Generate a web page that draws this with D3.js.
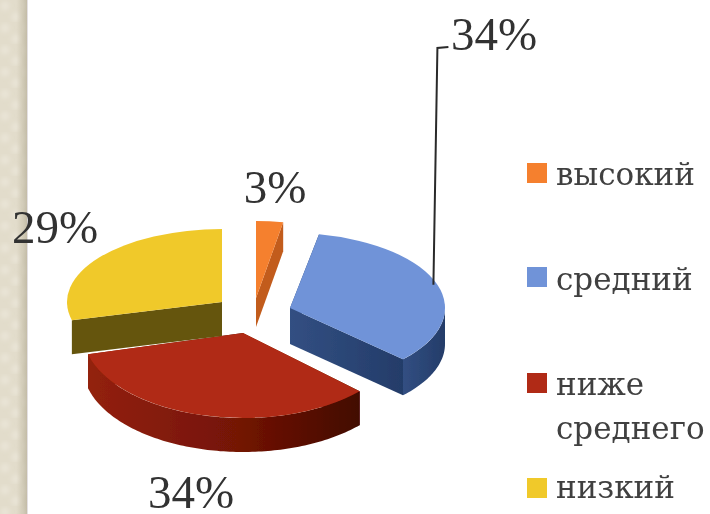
<!DOCTYPE html>
<html>
<head>
    <meta charset="utf-8">
    <title>pie</title>
    <script src="https://cdn.jsdelivr.net/npm/d3@7/dist/d3.min.js"></script>
    <style>
        * { padding: 0; margin: 0; box-sizing: border-box; }
        body { background: #fff; overflow: hidden; width: 710px; height: 514px; }
    </style>
</head>
<body>
<script>
    // data
    const categories = ['высокий', 'средний', 'ниже среднего', 'низкий']
    const values = [3, 34, 34, 29]
    const percentLabels = ['3%', '34%', '34%', '29%']

    // colours per slice
    const topColors = ['#f5802e', '#6f93d8', '#b02c13', '#f0c92b']
    const wallColors = ['#c25c1c', '#2f4a7b', '#7d1808', '#655510']

    // each exploded slice has its own centre and radii, the picture has perspective
    const centerX = [256, 290, 243, 222]
    const centerY = [298, 308, 333, 302]
    const radiusX = [145, 155, 160, 155]
    const radiusY = [77, 75, 85, 73]
    const depth = [29, 36, 34, 34]

    // label anchors and legend rows
    const labelX = [275, 494, 191, 55]
    const labelY = [203, 50, 508, 243]
    const legendY = [163, 267, 373, 478]
    const legendLines = [['высокий'], ['средний'], ['ниже', 'среднего'], ['низкий']]
    const legendBase = [185, 290, 395, 498]
    const legendLineGap = 44

    const width = 710, height = 514
    const svg = d3.select('body').append('svg')
        .attr('width', width).attr('height', height)
    const defs = svg.append('defs')

    const soft = defs.append('filter').attr('id', 'soft')
    soft.append('feGaussianBlur').attr('stdDeviation', 0.6)
    const softer = defs.append('filter').attr('id', 'softer')
    softer.append('feGaussianBlur').attr('stdDeviation', 2)

    // beige strip on the left
    const pat = defs.append('pattern').attr('id', 'tex')
        .attr('width', 22).attr('height', 22).attr('patternUnits', 'userSpaceOnUse')
    pat.append('rect').attr('width', 22).attr('height', 22).attr('fill', '#e2dccb')
    const blobs = pat.append('g').attr('filter', 'url(#softer)')
    blobs.append('circle').attr('cx', 5).attr('cy', 6).attr('r', 4.5).attr('fill', '#e9e4d6')
    blobs.append('circle').attr('cx', 16).attr('cy', 17).attr('r', 4.5).attr('fill', '#e9e4d6')
    const edge = defs.append('linearGradient').attr('id', 'edge')
    edge.append('stop').attr('offset', '0.6').attr('stop-color', '#c9c2ac').attr('stop-opacity', 0)
    edge.append('stop').attr('offset', '1').attr('stop-color', '#bdb6a0').attr('stop-opacity', 0.85)
    svg.append('rect').attr('width', 27).attr('height', height).attr('fill', 'url(#tex)')
    svg.append('rect').attr('width', 27).attr('height', height).attr('fill', 'url(#edge)')
    svg.append('rect').attr('x', 27).attr('width', 1).attr('height', height).attr('fill', '#e4e0e2')

    // wall shading
    const redWall = defs.append('linearGradient').attr('id', 'wall2')
    redWall.append('stop').attr('offset', '0').attr('stop-color', '#93210d')
    redWall.append('stop').attr('offset', '0.55').attr('stop-color', '#741406')
    redWall.append('stop').attr('offset', '1').attr('stop-color', '#420700')
    const blueWall = defs.append('linearGradient').attr('id', 'wall1')
    blueWall.append('stop').attr('offset', '0').attr('stop-color', '#324f82')
    blueWall.append('stop').attr('offset', '1').attr('stop-color', '#243c69')
    const wallFill = i => i === 2 ? 'url(#wall2)' : i === 1 ? 'url(#wall1)' : wallColors[i]

    const pie = d3.pie().sort(null).value(d => d)
    const slices = pie(values)

    const chart = svg.append('g').attr('filter', 'url(#soft)')
    const project = (i, a, r = 1) => [
        centerX[i] + radiusX[i] * r * Math.sin(a),
        centerY[i] - radiusY[i] * r * Math.cos(a)
    ]
    const line = d3.line()

    // red first, yellow wall sits over its back edge
    const order = [2, 3, 1, 0]
    order.forEach(i => {
        const s = slices[i]
        const g = chart.append('g')
        const d = depth[i]
        const down = p => [p[0], p[1] + d]

        // the two cut faces
        ;[s.startAngle, s.endAngle].forEach(a => {
            const c = project(i, a, 0), o = project(i, a)
            g.append('path')
                .attr('d', line([c, o, down(o), down(c)]) + 'Z')
                .attr('fill', wallFill(i))
        })

        // outer wall, only the front half of the rim shows, skip tiny bits
        const a0 = Math.max(s.startAngle, Math.PI / 2)
        const a1 = Math.min(s.endAngle, 3 * Math.PI / 2)
        if (a1 - a0 > 0.3) {
            const rim = d3.range(a0, a1, 0.02).concat([a1]).map(a => project(i, a))
            g.append('path')
                .attr('d', line(rim.concat(rim.slice().reverse().map(down))) + 'Z')
                .attr('fill', wallFill(i))
        }

        const arc = d3.arc().innerRadius(0).outerRadius(radiusX[i])
        g.append('path')
            .attr('d', arc(s))
            .attr('transform', `translate(${centerX[i]},${centerY[i]}) scale(1,${radiusY[i] / radiusX[i]})`)
            .attr('fill', topColors[i])
    })

    // leader from the middle of the blue rim up to the label
    const blueMid = (slices[1].startAngle + slices[1].endAngle) / 2
    const leaderStart = project(1, blueMid)
    svg.append('path')
        .attr('d', line([[leaderStart[0] - 4, leaderStart[1]], [leaderStart[0], labelY[1] - 2], [leaderStart[0] + 11, labelY[1] - 3]]))
        .attr('fill', 'none').attr('stroke', '#2a2a2a').attr('stroke-width', 2)

    // percent labels
    svg.selectAll('text.pct').data(percentLabels).join('text')
        .attr('class', 'pct')
        .attr('x', (d, i) => labelX[i])
        .attr('y', (d, i) => labelY[i])
        .attr('text-anchor', 'middle')
        .attr('font-family', '"Liberation Serif", serif')
        .attr('font-size', 47)
        .attr('fill', '#333')
        .attr('filter', 'url(#soft)')
        .text(d => d)

    // legend
    categories.forEach((c, i) => {
        svg.append('rect')
            .attr('x', 527).attr('y', legendY[i])
            .attr('width', 20).attr('height', 20)
            .attr('fill', topColors[i])
            .attr('filter', 'url(#soft)')
        legendLines[i].forEach((t, j) => {
            svg.append('text')
                .attr('x', 556)
                .attr('y', legendBase[i] + j * legendLineGap)
                .attr('font-family', '"DejaVu Serif", serif')
                .attr('font-size', 31)
                .attr('fill', '#404040')
                .attr('filter', 'url(#soft)')
                .text(t)
        })
    })
</script>
</body>
</html>
